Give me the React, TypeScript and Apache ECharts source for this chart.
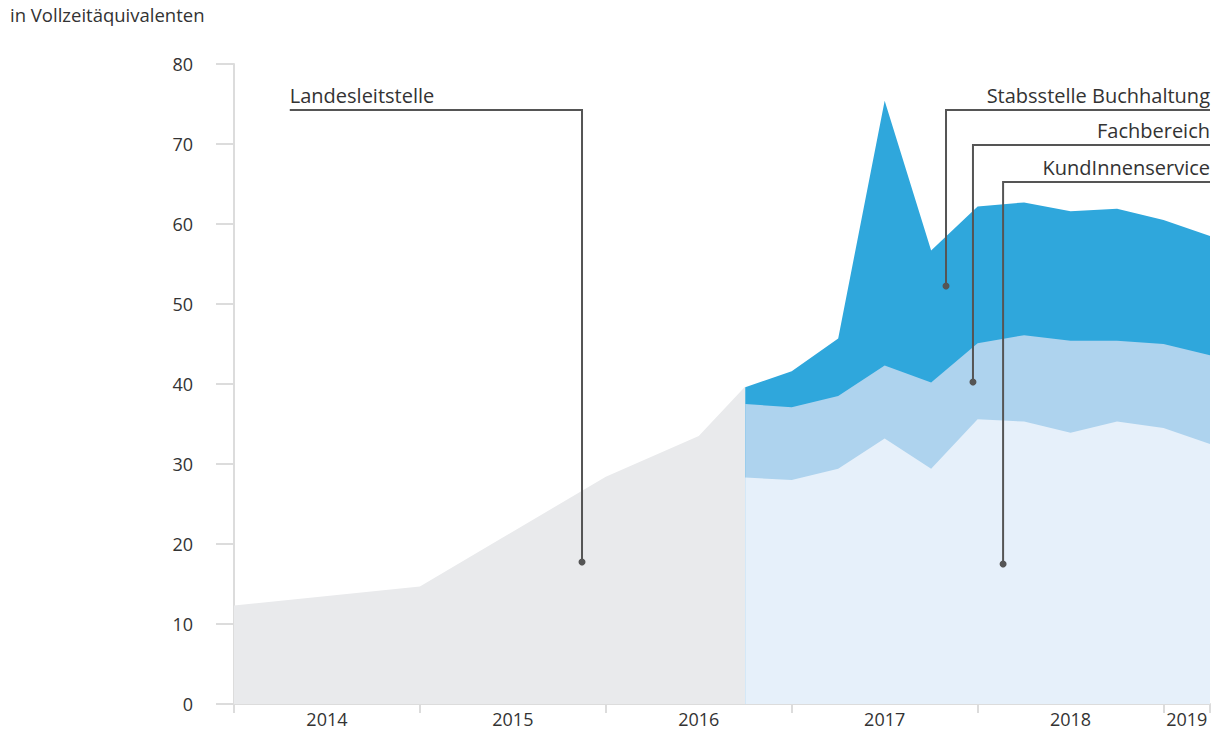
import React, { useEffect, useRef } from "react";
import * as echarts from "echarts";

// ---- data ----
const landesPeriods = ["2014-01", "2015-01", "2016-01", "2016-07", "2016-10"];
const landesValues = [12.3, 14.7, 28.4, 33.5, 39.7];

const quarterPeriods = [
  "2016-10", "2017-01", "2017-04", "2017-07", "2017-10",
  "2018-01", "2018-04", "2018-07", "2018-10", "2019-01", "2019-04",
];
const kundValues = [28.3, 28.0, 29.4, 33.2, 29.4, 35.6, 35.3, 33.9, 35.3, 34.5, 32.5];
const fachValues = [9.2, 9.1, 9.1, 9.1, 10.8, 9.5, 10.8, 11.5, 10.1, 10.5, 11.1];
const stabsValues = [2.1, 4.5, 7.2, 33.1, 16.5, 17.1, 16.6, 16.2, 16.5, 15.5, 14.9];

const yearTicks = [2014, 2015, 2016, 2017, 2018, 2019, 2019.25];
const yearLabelPositions = [2014.5, 2015.5, 2016.5, 2017.5, 2018.5, 2019.125];

const unitTitle = "in Vollzeitäquivalenten";

const toYear = (p: string) => {
  const [y, m] = p.split("-").map(Number);
  return y + (m - 1) / 12;
};

const FONT = "'Open Sans', 'Noto Sans', sans-serif";
const TEXT = "#333333";
const AXIS = "#dcdcdc";
const LEADER = "#555555";

// leader annotations (data coordinates)
const leaders = [
  { name: "Landesleitstelle", align: "left", start: 2014.3, lineY: 74.25, cornerX: 2015.872, dotY: 17.75 },
  { name: "Stabsstelle Buchhaltung", align: "right", start: 2019.25, lineY: 74.25, cornerX: 2017.83, dotY: 52.25 },
  { name: "Fachbereich", align: "right", start: 2019.25, lineY: 69.875, cornerX: 2017.975, dotY: 40.25 },
  { name: "KundInnenservice", align: "right", start: 2019.25, lineY: 65.25, cornerX: 2018.137, dotY: 17.5 },
];

export default function App() {
  const ref = useRef<HTMLDivElement>(null);

  useEffect(() => {
    document.body.style.margin = "0";
    if (!ref.current) return;
    const chart = echarts.init(ref.current, null, { renderer: "svg" });

    const qx = quarterPeriods.map(toYear);
    // cumulative tops (manual stacking)
    const kundTop = kundValues.map((v) => v);
    const fachTop = fachValues.map((v, i) => kundTop[i] + v);
    const stabsTop = stabsValues.map((v, i) => fachTop[i] + v);
    const mk = (vals: number[]) => vals.map((v, i) => [qx[i], v]);

    const area = (name: string, data: number[][], color: string, z: number) => ({
      name,
      type: "line",
      data,
      symbol: "none",
      lineStyle: { width: 0, color },
      areaStyle: { color, opacity: 1 },
      z,
    });

    chart.setOption({
      animation: false,
      grid: { left: 234, right: 9, top: 64, bottom: 27, containLabel: false },
      xAxis: {
        type: "value",
        min: 2014,
        max: 2019.25,
        axisLine: { show: true, lineStyle: { color: AXIS, width: 2 } },
        axisTick: { show: true, length: 9, customValues: yearTicks, lineStyle: { color: AXIS, width: 2 } },
        axisLabel: {
          show: true,
          customValues: yearLabelPositions,
          formatter: (v: number) => String(Math.floor(v)),
          color: TEXT,
          fontFamily: FONT,
          fontSize: 18,
          margin: 6,
        },
        splitLine: { show: false },
      },
      yAxis: {
        type: "value",
        min: 0,
        max: 80,
        interval: 10,
        axisLine: { show: true, lineStyle: { color: AXIS, width: 2 } },
        axisTick: { show: true, length: 18, lineStyle: { color: AXIS, width: 2 } },
        axisLabel: { color: TEXT, fontFamily: FONT, fontSize: 18, margin: 41 },
        splitLine: { show: false },
      },
      series: [
        area("Landesleitstelle", landesPeriods.map((p, i) => [toYear(p), landesValues[i]]), "#e9eaec", 1),
        area("Stabsstelle Buchhaltung", mk(stabsTop), "#2fa7dc", 2),
        area("Fachbereich", mk(fachTop), "#aed3ee", 3),
        area("KundInnenservice", mk(kundTop), "#e6f0fa", 4),
      ],
    });

    const px = (x: number, y: number) => chart.convertToPixel({ gridIndex: 0 }, [x, y]) as number[];
    const graphics: any[] = [
      {
        type: "text",
        left: 10,
        top: 5,
        style: { text: unitTitle, fill: TEXT, font: `18.5px ${FONT}` },
      },
    ];
    leaders.forEach((l) => {
      const s = px(l.start, l.lineY);
      const c = px(l.cornerX, l.lineY);
      const d = px(l.cornerX, l.dotY);
      graphics.push({
        type: "polyline",
        shape: { points: [s, c, d] },
        style: { stroke: LEADER, lineWidth: 2, fill: null },
        z: 10,
      });
      graphics.push({
        type: "circle",
        shape: { cx: d[0], cy: d[1], r: 3.5 },
        style: { fill: LEADER },
        z: 10,
      });
      graphics.push({
        type: "text",
        x: s[0],
        y: s[1] - 15,
        style: {
          text: l.name,
          fill: TEXT,
          font: `20px ${FONT}`,
          align: l.align,
          verticalAlign: "middle",
        },
        z: 10,
      });
    });
    chart.setOption({ graphic: graphics });

    return () => chart.dispose();
  }, []);

  return <div ref={ref} style={{ width: 1219, height: 731 }} />;
}
